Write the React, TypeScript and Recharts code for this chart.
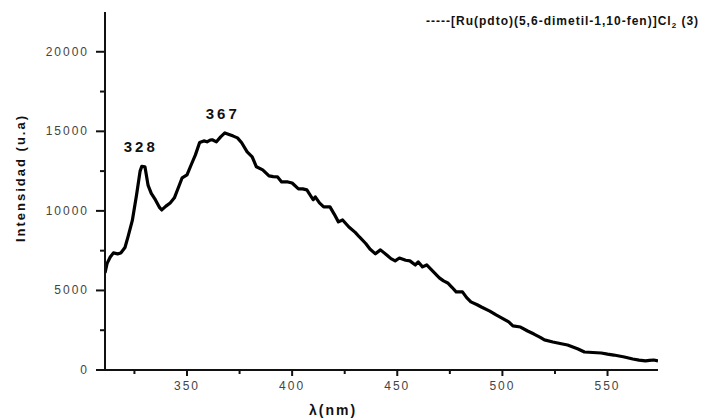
import { LineChart, Line, XAxis, YAxis, ReferenceDot } from 'recharts'

const W = 724
const H = 418
const PLOT_LEFT = 105
const PLOT_RIGHT = 658
const PLOT_TOP = 12
const PLOT_BOTTOM = 370

const FONT = '"Liberation Sans", Arial, Helvetica, sans-serif'

// wavelength (nm) and emission intensity (u.a)
const lambdaNm = [
  311, 312, 313.5, 315, 317, 318.5, 320.5, 322, 324, 326, 327.7, 328.5, 330, 331.5, 333, 335, 337, 338,
  340, 342, 344, 346, 347.7, 350, 352, 354, 356, 358, 359.5, 361, 362, 364, 366, 368, 370, 372, 374, 376,
  378.6, 381, 383, 386, 389, 391, 393, 395, 398, 400, 403, 405, 407, 410, 411, 413, 415, 418, 420, 422,
  424, 427, 430, 432, 435, 437, 439.6, 442, 445, 447, 449, 451, 454, 456, 458.6, 460, 462, 464, 467, 470,
  472, 474, 476, 478, 481, 483, 485, 488, 490, 494, 497, 500, 503, 505, 508.6, 512, 515, 518, 520, 524,
  528, 531, 536, 539, 543, 547, 550, 553, 558, 562, 565, 568, 570, 572, 574,
]
const intensity = [
  6100, 6700, 7100, 7360, 7300, 7350, 7700, 8400, 9400, 11000, 12500, 12800, 12770, 11600, 11100, 10690, 10200, 10060,
  10300, 10500, 10820, 11500, 12080, 12260, 12900, 13520, 14300, 14400, 14340, 14450, 14470, 14340, 14650, 14900, 14800, 14700, 14590, 14280,
  13710, 13400, 12770, 12580, 12200, 12150, 12140, 11820, 11820, 11750, 11380, 11380, 11320, 10700, 10880, 10500, 10250, 10250, 9800, 9310,
  9430, 8990, 8650, 8360, 7950, 7600, 7300, 7550, 7230, 7000, 6860, 7040, 6900, 6860, 6600, 6790, 6480, 6600, 6200, 5790,
  5600, 5470, 5200, 4910, 4910, 4550, 4280, 4100, 3960, 3700, 3460, 3250, 3020, 2770, 2700, 2450, 2260, 2050, 1890, 1760,
  1650, 1570, 1320, 1130, 1100, 1070, 1000, 940, 820, 690, 620, 570, 600, 630, 570,
]

const xTicks = [325, 350, 375, 400, 425, 450, 475, 500, 525, 550]
const xLabeled = [350, 400, 450, 500, 550]
const yTicks = [0, 2500, 5000, 7500, 10000, 12500, 15000, 17500, 20000]
const yLabeled = [0, 5000, 10000, 15000, 20000]

const peaks = [
  { x: 328, y: 12800, label: '328' },
  { x: 367, y: 14900, label: '367' },
]

const data = lambdaNm.map((l, i) => ({ lambda: l, value: intensity[i] }))

const XTick = (props: any) => {
  const { x, payload } = props
  const major = xLabeled.includes(payload.value)
  return (
    <g>
      <line x1={x} x2={x} y1={PLOT_BOTTOM} y2={PLOT_BOTTOM + (major ? 6 : 4)} stroke="#111" strokeWidth={2} />
      {major && (
        <text x={x} y={PLOT_BOTTOM + 20} textAnchor="middle" fontFamily={FONT} fontSize={12} fill="#444" letterSpacing={2}>
          {payload.value}
        </text>
      )}
    </g>
  )
}

const YTick = (props: any) => {
  const { y, payload } = props
  const major = yLabeled.includes(payload.value)
  return (
    <g>
      <line x1={PLOT_LEFT - (major ? 9 : 5)} x2={PLOT_LEFT} y1={y} y2={y} stroke="#111" strokeWidth={2} />
      {major && (
        <text x={PLOT_LEFT - 16} y={y + 4} textAnchor="end" fontFamily={FONT} fontSize={12} fill="#444" letterSpacing={2}>
          {payload.value}
        </text>
      )}
    </g>
  )
}

export default function App() {
  return (
    <div style={{ position: 'absolute', left: 0, top: 0, width: W, height: H, background: '#fff', fontFamily: FONT }}>
      <LineChart
        width={W}
        height={H}
        data={data}
        margin={{ top: PLOT_TOP, right: W - PLOT_RIGHT, bottom: 18, left: PLOT_LEFT - 60 }}
      >
        <XAxis
          dataKey="lambda"
          type="number"
          domain={[311, 574]}
          allowDataOverflow
          ticks={xTicks}
          tick={<XTick />}
          tickLine={false}
          height={30}
          axisLine={{ stroke: '#111', strokeWidth: 2 }}
        />
        <YAxis
          type="number"
          domain={[0, 22500]}
          allowDataOverflow
          ticks={yTicks}
          tick={<YTick />}
          tickLine={false}
          width={60}
          axisLine={{ stroke: '#111', strokeWidth: 2 }}
        />
        <Line
          type="linear"
          dataKey="value"
          stroke="#000"
          strokeWidth={3.2}
          dot={false}
          isAnimationActive={false}
          strokeLinejoin="round"
        />
        {peaks.map((p) => (
          <ReferenceDot
            key={p.label}
            x={p.x}
            y={p.y}
            r={0}
            fill="none"
            stroke="none"
            label={{
              value: p.label,
              position: 'top',
              offset: 14,
              fill: '#111',
              fontSize: 15,
              fontWeight: 'bold',
              fontFamily: FONT,
              letterSpacing: 3,
            }}
          />
        ))}
      </LineChart>
      <div
        style={{
          position: 'absolute',
          left: 426,
          top: 14,
          fontSize: 12,
          fontWeight: 'bold',
          letterSpacing: 1,
          color: '#111',
          whiteSpace: 'nowrap',
        }}
      >
        -----[Ru(pdto)(5,6-dimetil-1,10-fen)]Cl<sub style={{ fontSize: 8 }}>2</sub> (3)
      </div>
      <div
        style={{
          position: 'absolute',
          left: 20,
          top: 178,
          transform: 'translate(-50%, -50%) rotate(-90deg)',
          fontSize: 13,
          fontWeight: 'bold',
          letterSpacing: 2,
          color: '#111',
          whiteSpace: 'nowrap',
        }}
      >
        Intensidad (u.a)
      </div>
      <div
        style={{
          position: 'absolute',
          left: 333,
          top: 410,
          transform: 'translate(-50%, -50%)',
          fontSize: 14,
          fontWeight: 'bold',
          letterSpacing: 2,
          color: '#111',
          whiteSpace: 'nowrap',
        }}
      >
        λ(nm)
      </div>
    </div>
  )
}
